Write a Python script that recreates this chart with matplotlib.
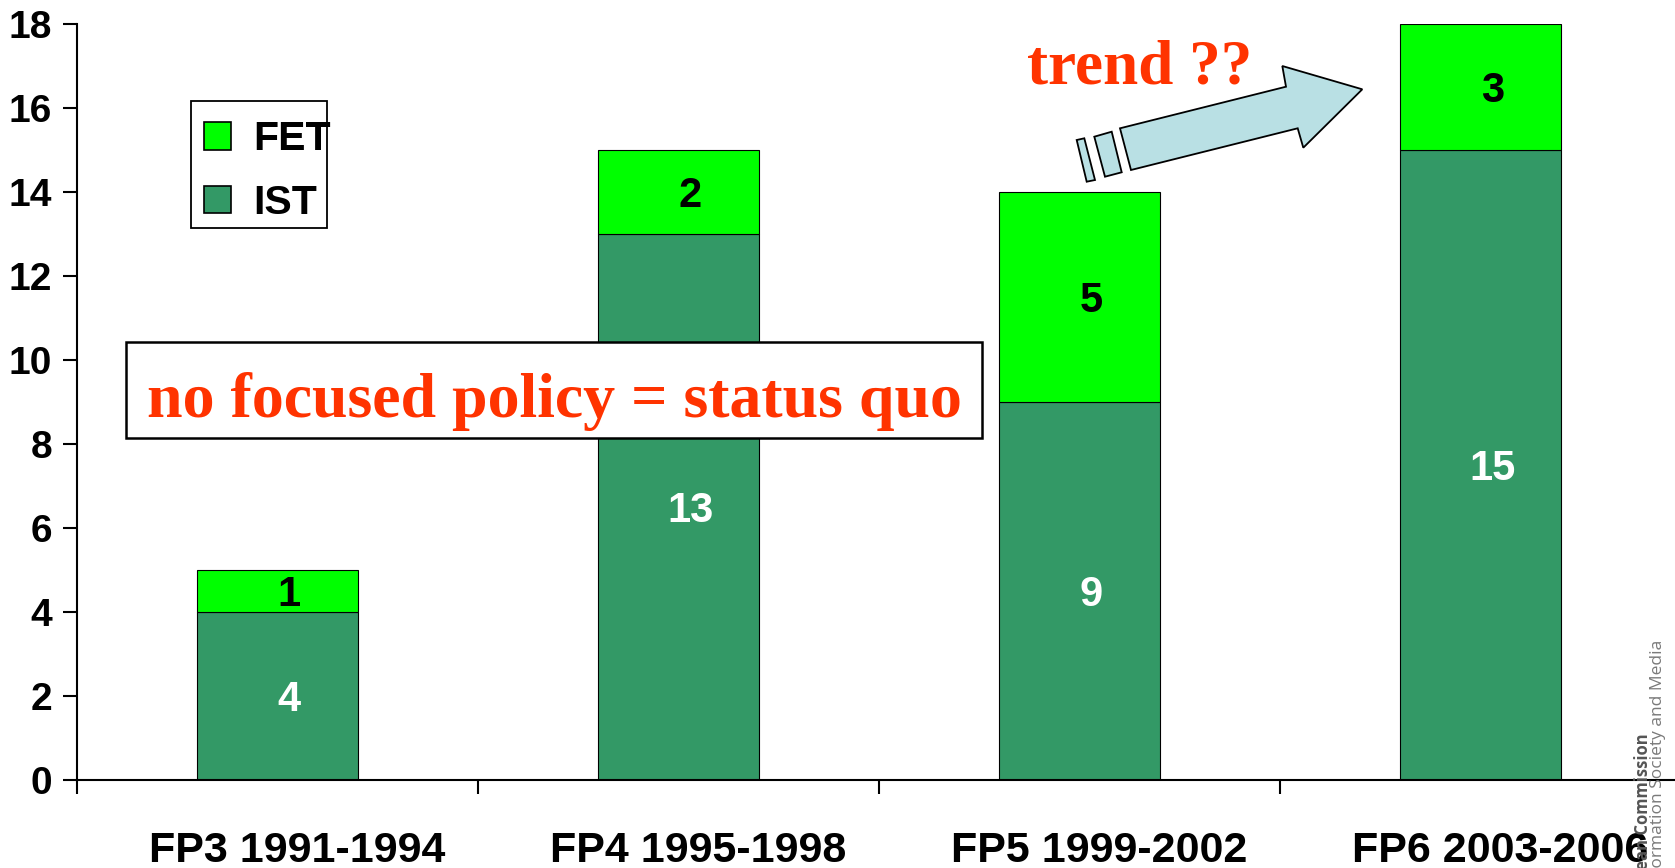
import matplotlib
matplotlib.use("Agg")
import matplotlib.pyplot as plt
from matplotlib.patches import Polygon, Patch, Rectangle
from matplotlib.transforms import Affine2D
import numpy as np

# data
periods = ["FP3 1991-1994", "FP4 1995-1998", "FP5 1999-2002", "FP6 2003-2006"]
ist = [4, 13, 9, 15]
fet = [1, 2, 5, 3]

ist_color = "#339966"
fet_color = "#00FF00"
red = "#FF3300"

plt.rcParams["font.family"] = ["Liberation Sans", "DejaVu Sans"]

W, H = 1675, 868
fig = plt.figure(figsize=(W / 100, H / 100), dpi=100)
ax = fig.add_axes([77 / W, 88 / H, 1604 / W, 756.5 / H])
# image-pixel coords (top-left origin) for decorations
pix = Affine2D().scale(1 / W, -1 / H).translate(0, 1) + fig.transFigure

x = np.arange(len(periods))
ax.bar(x, ist, width=0.4, color=ist_color, edgecolor="black", linewidth=0.8, label="IST")
ax.bar(x, fet, width=0.4, bottom=ist, color=fet_color, edgecolor="black", linewidth=0.8, label="FET")

# values inside bars (slightly right of centre, like the original)
for i in range(len(periods)):
    ax.annotate(str(ist[i]), (x[i], ist[i] / 2), xytext=(8.5, -3), textcoords="offset points",
                ha="center", va="center", color="white", fontsize=30, fontweight="bold")
    ax.annotate(str(fet[i]), (x[i], ist[i] + fet[i] / 2), xytext=(8.5, -3), textcoords="offset points",
                ha="center", va="center", color="black", fontsize=30, fontweight="bold")

ax.set_xlim(-0.5, 3.5)
ax.set_ylim(0, 18)
ax.set_yticks(np.arange(0, 19, 2))
ax.tick_params(axis="y", direction="out", length=10, width=1.5, pad=8, labelsize=28)
for lab in ax.get_yticklabels():
    lab.set_fontweight("bold")

# category ticks between bars
ax.set_xticks(np.arange(-0.5, 3.6, 1.0))
ax.set_xticklabels([])
ax.tick_params(axis="x", direction="out", length=10, width=1.5)
for i, p in enumerate(periods):
    ax.annotate(p, (x[i], 0), xycoords=("data", "axes fraction"), xytext=(14, -59),
                textcoords="offset points", ha="center", va="baseline",
                fontsize=31, fontweight="bold", annotation_clip=False)

for s in ["top", "right"]:
    ax.spines[s].set_visible(False)
ax.spines["left"].set_linewidth(1.5)
ax.spines["bottom"].set_linewidth(1.5)

# legend, frame drawn separately
handles = [Patch(facecolor=fet_color, edgecolor="black", linewidth=1.2, label="FET"),
           Patch(facecolor=ist_color, edgecolor="black", linewidth=1.2, label="IST")]
ax.legend(handles=handles, loc="upper left", bbox_to_anchor=(204, 120.5), bbox_transform=pix,
          borderaxespad=0, frameon=False, prop={"weight": "bold", "size": 29.5},
          handlelength=0.66, handleheight=0.66, handletextpad=0.55, labelspacing=0.62, borderpad=0)
fig.add_artist(Rectangle((191, 100.5), 136, 127.5, facecolor="none", edgecolor="black",
                         linewidth=1.3, transform=pix))

# annotations
fig.add_artist(Rectangle((125.6, 342), 856.4, 96, facecolor="white", edgecolor="black",
                         linewidth=1.8, transform=pix, zorder=3))
fig.text(554, 417, "no focused policy = status quo", transform=pix, ha="center", va="baseline",
         color=red, fontsize=46, fontweight="bold", family=["Liberation Serif", "DejaVu Serif"],
         zorder=4)
fig.text(1140, 84, "trend ??", transform=pix, ha="center", va="baseline",
         color=red, fontsize=45.5, fontweight="bold", family=["Liberation Serif", "DejaVu Serif"])

# arrow
arrow = [(1120, 128.3), (1286, 86.7), (1282.3, 66), (1362.3, 89.3),
         (1303.3, 147.7), (1297.7, 128.3), (1131, 170)]
stripe2 = [(1094.3, 136.7), (1111.7, 131.7), (1121.7, 172.3), (1105, 176.7)]
stripe1 = [(1076.7, 140), (1084.3, 138.3), (1095, 180), (1086.7, 181.7)]
for pts in [arrow, stripe2, stripe1]:
    fig.add_artist(Polygon(pts, closed=True, facecolor="#B9E0E4", edgecolor="black",
                           linewidth=1.3, transform=pix))

# side logo text
fig.text(1643, 733, "European Commission", transform=pix, rotation=90, rotation_mode="anchor",
         ha="right", va="center", fontsize=12, fontweight="bold", color="#555555",
         family=["Open Sans", "DejaVu Sans"], zorder=5)
fig.text(1658, 640, "Information Society and Media", transform=pix, rotation=90,
         rotation_mode="anchor", ha="right", va="center", fontsize=12.5, color="#7a7a7a",
         family=["Open Sans", "DejaVu Sans"], zorder=5)

fig.savefig("out.png", dpi=100)
plt.close(fig)
